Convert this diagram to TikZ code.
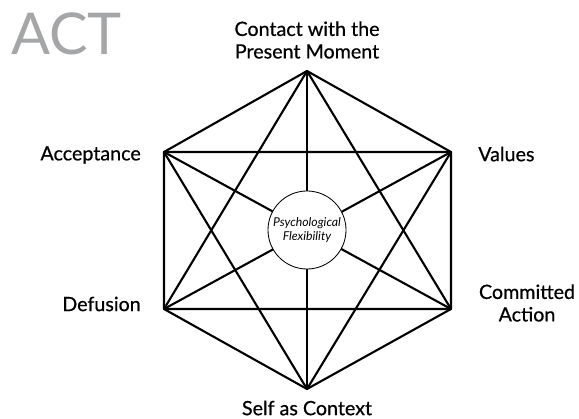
\documentclass[tikz,border=0pt]{standalone}
\usepackage{fontspec}
\setmainfont{Lato}
\usetikzlibrary{positioning}
\definecolor{actgrey}{HTML}{A4A6A8}

\begin{document}
\begin{tikzpicture}[x=0.025cm, y=-0.025cm, line join=round,
    edge/.style={line width=1.5pt, black},
    facet/.style={font=\fontsize{14}{16}\selectfont\addfontfeature{FakeBold=0.6},
                  align=center, inner sep=0pt},
    hub/.style={circle, draw=black, fill=white, line width=0.6pt,
                minimum size=1.95cm, inner sep=0pt, align=center,
                font=\fontsize{8.7}{10}\selectfont\itshape}]
\useasboundingbox (0,0) rectangle (579,419);

% Title
\node[font=\fontsize{41}{41}\selectfont, text=actgrey,
      anchor=west, inner sep=0pt] (title) at (11,34) {ACT};

% Hexagon corners
\coordinate (present)   at (307,71);
\coordinate (values)    at (451,152);
\coordinate (committed) at (451,309);
\coordinate (self)      at (307,389);
\coordinate (defusion)  at (164,309);
\coordinate (accept)    at (164,152);

% Outer hexagon
\draw[edge] (present) -- (values) -- (committed) -- (self)
  -- (defusion) -- (accept) -- cycle;

% Two triangles
\draw[edge] (present) -- (committed) -- (defusion) -- cycle;
\draw[edge] (self) -- (values) -- (accept) -- cycle;

% Long diagonals through the middle
\draw[edge] (present) -- (self);
\draw[edge] (accept) -- (committed);
\draw[edge] (values) -- (defusion);

% Centre hub sits on top of the diagonals
\node[hub] (flex) at (307,230) {Psychological\\Flexibility};

% Corner labels
\node[facet] (lbl-present) at (307,40) {Contact with the\\Present Moment};
\node[facet, anchor=east] (lbl-accept) at (141,155) {Acceptance};
\node[facet, anchor=west] (lbl-values) at (478,154) {Values};
\node[facet, anchor=east] (lbl-defusion) at (141,304) {Defusion};
\node[facet] (lbl-committed) at (527,303) {Committed\\Action};
\node[facet] (lbl-self) at (307,408) {Self as Context};

\end{tikzpicture}
\end{document}
